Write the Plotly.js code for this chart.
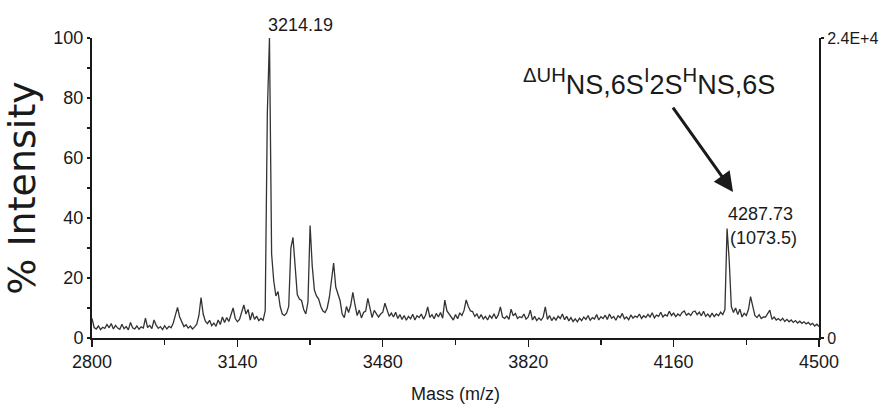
<!DOCTYPE html>
<html>
<head>
<meta charset="utf-8">
<script src="https://cdn.plot.ly/plotly-3.0.1.min.js"></script>
<style>
html, body { margin: 0; padding: 0; background: #ffffff; }
#chart { width: 882px; height: 410px; }
</style>
</head>
<body>
<div id="chart"></div>
<script>
// ---- data ----
const massStart = 2800;   // m/z of first sample
const massStep = 5;       // m/z between samples
const intensity = [
  6.5,3.5,3.0,4.0,2.8,3.6,3.2,4.5,3.4,4.8,
  3.0,4.2,3.3,2.9,4.6,3.1,3.8,2.7,5.2,3.4,
  3.0,4.0,2.9,3.7,3.3,6.6,3.5,4.2,3.1,6.0,
  4.3,3.2,3.8,2.8,4.1,3.0,3.9,3.4,5.0,7.5,
  10.2,7.0,5.5,3.8,4.4,3.3,4.0,3.0,3.7,4.6,
  7.5,13.5,8.0,5.6,4.8,5.9,4.1,5.0,3.9,6.0,
  4.5,7.0,5.2,6.8,5.5,7.8,10.0,6.5,5.4,6.2,
  8.8,11.0,8.0,9.5,6.0,8.5,6.2,7.3,5.8,6.5,
  5.9,9.0,75,100,28,19,14,15.5,10.5,8.0,
  7.5,8.3,10.5,30,33.5,22,14.5,13,12.5,9.5,
  8.0,12,37.5,24,16,14,13,10.5,9,8.5,
  10,13.5,20,25,17,14.5,12.5,8,6.8,10.5,
  8.5,11,15.2,11,7.5,9.3,6.7,8.5,9,13.2,
  10,6.8,9.2,8,7,8,8.6,11.6,9.0,7.2,
  8.3,7.0,8.6,6.5,7.8,6.2,7.5,5.9,7.2,6.4,
  7.9,6.0,7.4,6.8,8.0,6.3,7.6,10.4,6.9,7.8,
  6.4,8.2,7.0,8.5,6.6,12.6,9.0,8.0,7.2,6.0,
  7.8,6.4,8.4,7.5,9.2,12.7,10.5,9.0,8.8,7.2,
  8.0,6.5,7.8,6.3,7.2,6.0,7.5,6.6,8.1,6.4,
  7.7,10.4,7.0,6.5,7.3,6.2,9.6,7.4,8.2,6.5,
  7.1,6.8,8.0,6.3,7.0,9.3,6.0,7.2,5.8,6.7,
  5.9,7.0,10.4,6.2,7.5,5.8,6.9,6.0,7.3,6.5,
  8.0,6.1,7.2,5.7,6.8,5.5,6.4,5.4,6.6,5.8,
  7.0,6.2,7.5,5.9,6.8,6.3,7.8,6.0,7.1,6.5,
  7.6,6.2,8.0,6.6,7.2,5.9,7.4,6.8,8.2,6.4,
  7.0,6.1,7.7,6.6,7.3,6.9,8.0,6.5,7.4,6.8,
  7.9,7.0,8.4,6.7,7.6,7.2,8.6,7.0,7.8,7.3,
  8.9,7.5,8.3,7.1,8.0,7.4,8.5,9.0,7.6,8.2,
  7.5,8.7,9.0,7.8,8.6,7.4,8.9,7.2,8.0,7.0,
  8.3,7.1,8.0,7.4,8.6,7.8,9.5,36.5,26,10.5,
  8.5,10.0,7.8,9.6,7.0,8.2,7.5,9.5,13.8,11.0,
  7.5,6.8,7.8,6.5,7.0,7.0,8.0,9.3,6.2,7.0,
  6.0,6.5,5.8,6.6,5.5,6.2,5.4,6.0,5.2,5.8,
  5.0,5.6,4.9,5.4,4.7,5.2,4.4,4.9,4.0,4.6,
  3.8
];

const xRange = [2800, 4500];
const xTickVals = [2800, 3140, 3480, 3820, 4160, 4500];
const yRange = [0, 100];
const yTickVals = [0, 20, 40, 60, 80, 100];
const rightRange = [0, 24000];
const rightTickVals = [0, 24000];
const rightTickText = ['0', '2.4E+4'];

const peakMasses = [3214.19, 4287.73];
const peakLabels = ['3214.19', '4287.73'];
const chargeLabel = '(1073.5)';
const structureLabel =
  '<span style="font-size:29px"><sup>\u0394UH</sup></span>NS,6S' +
  '<span style="font-size:29px"><sup>I</sup></span>2S' +
  '<span style="font-size:29px"><sup>H</sup></span>NS,6S';

// ---- styling ----
const SANS = "'Liberation Sans', Arial, sans-serif";
const INK = '#1a1a1a';

const traces = [
  {
    type: 'scatter', mode: 'lines',
    x0: massStart, dx: massStep, y: intensity,
    line: { color: '#333333', width: 1.3 },
    hoverinfo: 'skip', showlegend: false
  },
  {
    type: 'scatter', mode: 'none',
    x: [xRange[0]], y: [rightRange[0]], yaxis: 'y2',
    hoverinfo: 'skip', showlegend: false
  }
];

const layout = {
  width: 882, height: 410,
  margin: { l: 92, r: 63, t: 38, b: 72, pad: 0 },
  paper_bgcolor: '#ffffff', plot_bgcolor: '#ffffff',
  showlegend: false,
  xaxis: {
    range: xRange, tickvals: xTickVals,
    ticks: 'outside', ticklen: 7, tickwidth: 1.3, tickcolor: INK,
    minor: { dtick: 170, tick0: 2800, ticks: 'outside', ticklen: 5, tickwidth: 1.3, tickcolor: INK, showgrid: false },
    showline: true, linecolor: INK, linewidth: 1.5,
    showgrid: false, zeroline: false,
    tickfont: { family: SANS, size: 18, color: INK },
    title: { text: 'Mass (m/z)', font: { family: SANS, size: 18, color: INK }, standoff: 16 }
  },
  yaxis: {
    range: yRange, tickvals: yTickVals,
    ticks: 'outside', ticklen: 3, tickwidth: 1.3, tickcolor: INK,
    minor: { dtick: 10, tick0: 0, ticks: 'outside', ticklen: 3, tickwidth: 1.3, tickcolor: INK, showgrid: false },
    showline: true, linecolor: INK, linewidth: 2,
    showgrid: false, zeroline: false,
    tickfont: { family: SANS, size: 18, color: INK },
    title: { text: '% Intensity', font: { family: "'DejaVu Sans', sans-serif", size: 38, color: INK }, standoff: 8 }
  },
  yaxis2: {
    overlaying: 'y', side: 'right', anchor: 'x',
    range: rightRange, tickvals: rightTickVals, ticktext: rightTickText,
    ticks: 'outside', ticklen: 3, tickwidth: 1.3, tickcolor: INK,
    showline: true, linecolor: INK, linewidth: 2,
    showgrid: false, zeroline: false,
    tickfont: { family: SANS, size: 16, color: INK }
  },
  annotations: [
    {
      xref: 'x', yref: 'y', x: peakMasses[0], y: 100,
      text: peakLabels[0], showarrow: false,
      xanchor: 'left', yanchor: 'bottom', xshift: -3, yshift: 1,
      font: { family: SANS, size: 18, color: INK }
    },
    {
      xref: 'x', yref: 'y', x: peakMasses[1], y: 41.3,
      text: peakLabels[1], showarrow: false,
      xanchor: 'left', yanchor: 'middle', xshift: -2,
      font: { family: SANS, size: 18, color: INK }
    },
    {
      xref: 'x', yref: 'y', x: peakMasses[1], y: 33.5,
      text: chargeLabel, showarrow: false,
      xanchor: 'left', yanchor: 'middle', xshift: 0,
      font: { family: SANS, size: 18, color: INK }
    },
    {
      xref: 'x', yref: 'y', x: 4103, y: 85.3,
      text: structureLabel, showarrow: false,
      xanchor: 'center', yanchor: 'middle',
      font: { family: SANS, size: 27, color: INK }
    },
    {
      xref: 'x', yref: 'y', x: 4299, y: 48.7,
      axref: 'x', ayref: 'y', ax: 4156, ay: 77.3,
      text: '', showarrow: true,
      arrowhead: 2, arrowsize: 1.3, arrowwidth: 3, arrowcolor: INK
    }
  ]
};

Plotly.newPlot('chart', traces, layout, { staticPlot: true, displayModeBar: false });
</script>
</body>
</html>
